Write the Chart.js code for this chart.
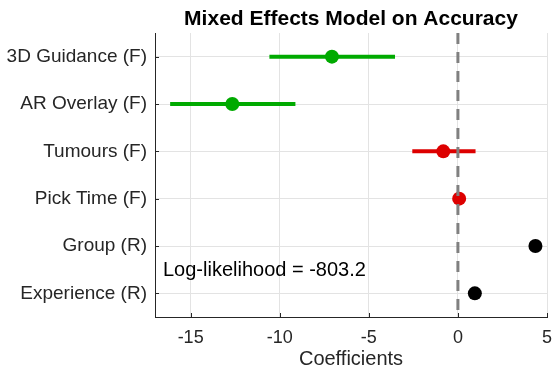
<!DOCTYPE html>
<html>
<head>
<meta charset="utf-8">
<script src="https://cdn.jsdelivr.net/npm/chart.js@4/dist/chart.umd.min.js"></script>
<style>
  html, body { margin: 0; padding: 0; background: #fff; }
  #wrap { width: 552px; height: 375px; position: relative; }
</style>
</head>
<body>
<div id="wrap"><canvas id="c"></canvas></div>
<script>
// Datos del modelo
const terms = ['3D Guidance (F)', 'AR Overlay (F)', 'Tumours (F)', 'Pick Time (F)', 'Group (R)', 'Experience (R)'];
const estimates = [-7.07, -12.66, -0.82, 0.07, 4.35, 0.95];
const ciLow = [-10.58, -16.15, -2.56, null, null, null];
const ciHigh = [-3.53, -9.12, 0.99, null, null, null];
const termColors = ['#00AA00', '#00AA00', '#DD0000', '#DD0000', '#000000', '#000000'];
const xTicks = [-15, -10, -5, 0, 5];
const titleText = 'Mixed Effects Model on Accuracy';
const logLikText = 'Log-likelihood = -803.2';

const FONT = '"Liberation Sans", Arial, Helvetica, sans-serif';

// Posición de cada término en el eje y (1 = arriba)
const yPos = terms.map((t, i) => i + 1);

const datasets = [];

// Línea de referencia en cero (encima de todo)
datasets.push({
    type: 'line',
    data: [{ x: 0, y: 0.5 }, { x: 0, y: 6.5 }],
    borderColor: '#808080',
    borderWidth: 3,
    borderDash: [11, 8],
    pointRadius: 0,
    order: 0
});

// Intervalos de confianza
terms.forEach((t, i) => {
    if (ciLow[i] === null) return;
    datasets.push({
        type: 'line',
        data: [{ x: ciLow[i], y: yPos[i] }, { x: ciHigh[i], y: yPos[i] }],
        borderColor: termColors[i],
        borderWidth: 4,
        pointRadius: 0,
        order: 2
    });
});

// Estimaciones puntuales
datasets.push({
    type: 'scatter',
    data: estimates.map((v, i) => ({ x: v, y: yPos[i] })),
    backgroundColor: termColors,
    borderColor: termColors,
    pointRadius: 7,
    pointBorderWidth: 0,
    order: 1
});

// Plugin: título centrado en el área, marcas interiores y texto de log-likelihood
const extras = {
    id: 'extras',
    afterDraw(chart) {
        const ctx = chart.ctx;
        const a = chart.chartArea;
        const xs = chart.scales.x, ys = chart.scales.y;
        ctx.save();
        ctx.strokeStyle = '#262626';
        ctx.lineWidth = 1;
        ctx.beginPath();
        xTicks.forEach(v => {
            const px = Math.round(xs.getPixelForValue(v)) + 0.5;
            ctx.moveTo(px, a.bottom);
            ctx.lineTo(px, a.bottom - 4);
        });
        yPos.forEach(v => {
            const py = Math.round(ys.getPixelForValue(v)) + 0.5;
            ctx.moveTo(a.left, py);
            ctx.lineTo(a.left + 4, py);
        });
        ctx.stroke();

        ctx.fillStyle = '#000';
        ctx.textBaseline = 'middle';
        ctx.textAlign = 'center';
        ctx.font = 'bold 21px ' + FONT;
        ctx.fillText(titleText, (a.left + a.right) / 2, 19);

        ctx.textAlign = 'left';
        ctx.font = '20px ' + FONT;
        ctx.fillText(logLikText, a.left + 8, 270);
        ctx.restore();
    }
};

new Chart(document.getElementById('c'), {
    type: 'scatter',
    data: { datasets: datasets },
    options: {
        responsive: true,
        maintainAspectRatio: false,
        animation: false,
        layout: { autoPadding: false, padding: { top: 33, right: 5, bottom: 0, left: 0 } },
        plugins: {
            legend: { display: false },
            tooltip: { enabled: false },
            title: { display: false }
        },
        scales: {
            x: {
                type: 'linear',
                min: -17,
                max: 5,
                afterBuildTicks: s => { s.ticks = xTicks.map(v => ({ value: v })); },
                afterFit: s => { s.height = 58; s.paddingLeft = 0; s.paddingRight = 0; },
                grid: { color: '#e3e3e3', drawTicks: false, lineWidth: 1 },
                border: { display: true, color: '#262626', width: 1 },
                ticks: {
                    color: '#262626',
                    padding: 10,
                    font: { family: FONT, size: 18 }
                },
                title: {
                    display: true,
                    text: 'Coefficients',
                    color: '#262626',
                    font: { family: FONT, size: 20 },
                    padding: { top: 0, bottom: 4 }
                }
            },
            y: {
                type: 'linear',
                reverse: true,
                min: 0.5,
                max: 6.5,
                afterBuildTicks: s => { s.ticks = yPos.map(v => ({ value: v })); },
                afterFit: s => { s.width = 155; s.paddingTop = 0; s.paddingBottom = 0; },
                grid: { color: '#e3e3e3', drawTicks: false, lineWidth: 1 },
                border: { display: true, color: '#262626', width: 1 },
                ticks: {
                    color: '#262626',
                    padding: 8,
                    font: { family: FONT, size: 19 },
                    callback: v => terms[v - 1]
                }
            }
        }
    },
    plugins: [extras]
});
</script>
</body>
</html>
